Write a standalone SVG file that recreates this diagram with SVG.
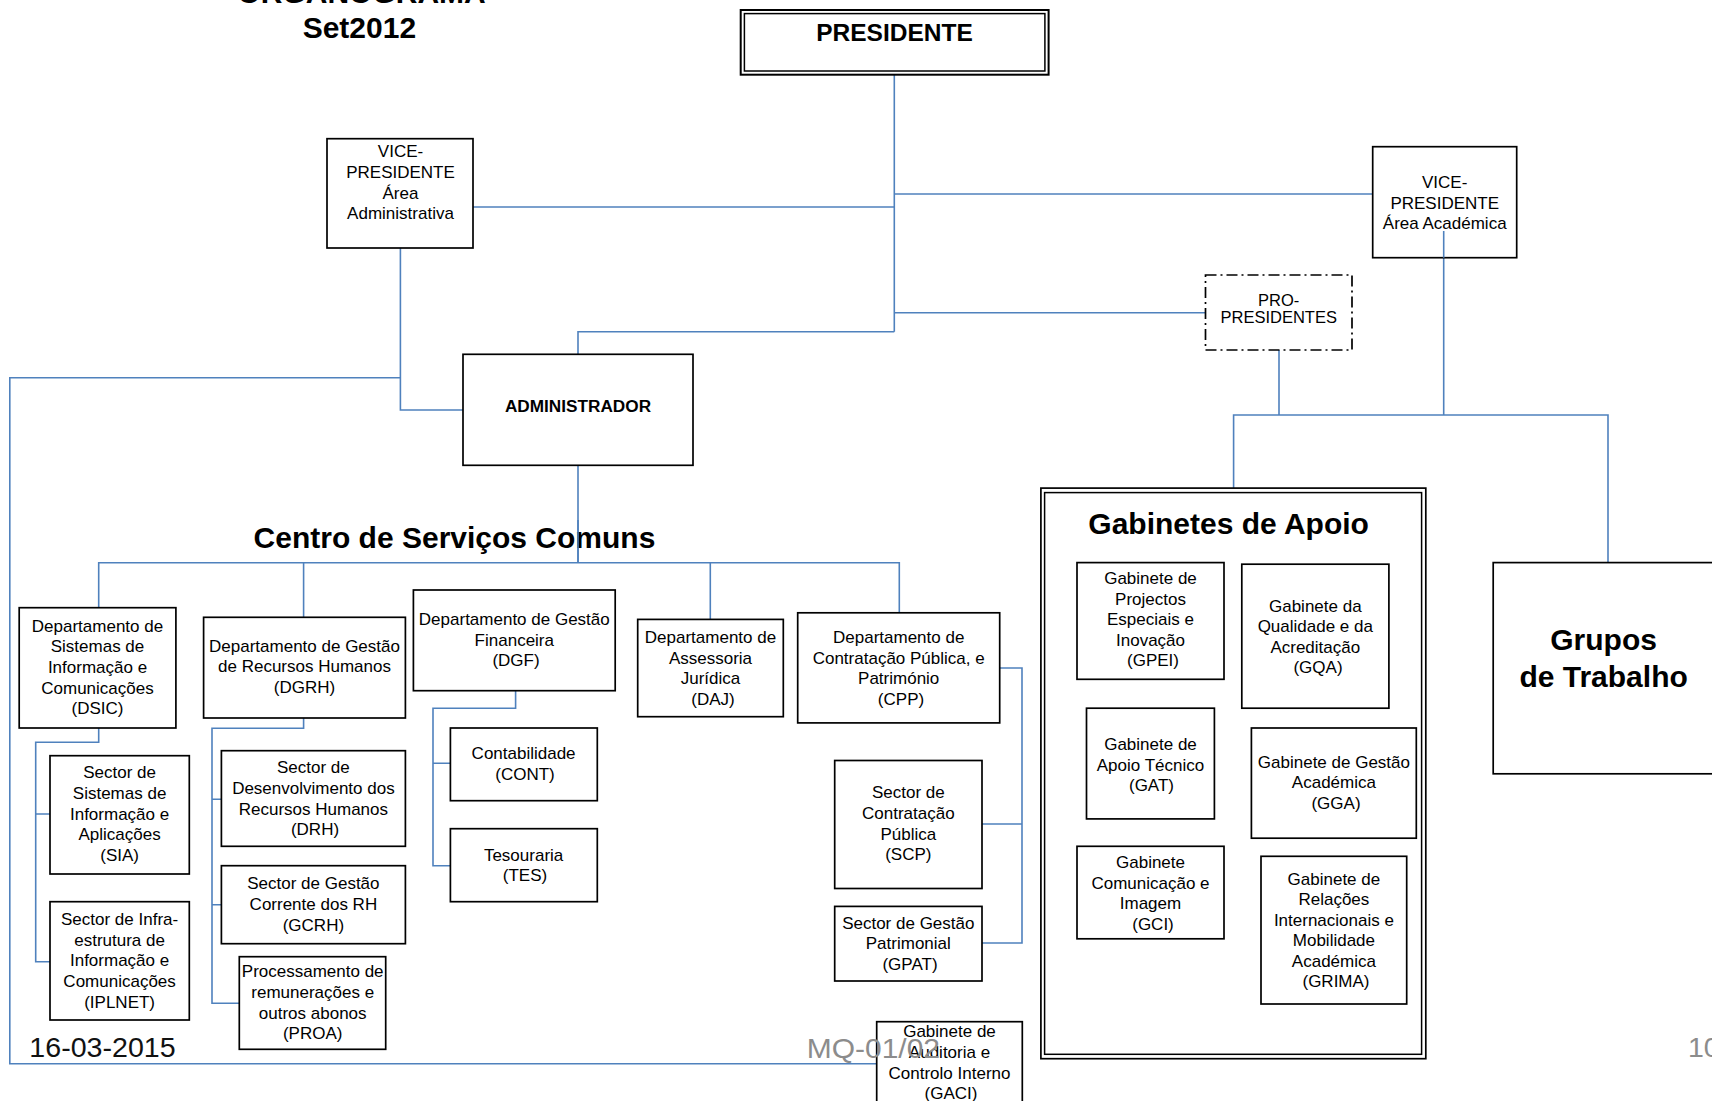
<svg xmlns="http://www.w3.org/2000/svg" width="1712" height="1101" viewBox="0 0 1712 1101">
<style>
.bx{fill:#fff;stroke:#000;stroke-width:1.7}
.t{font-family:"Liberation Sans",Arial,sans-serif;font-size:17px;fill:#000;text-anchor:middle}
.tb{font-family:"Liberation Sans",Arial,sans-serif;font-weight:bold;fill:#000;text-anchor:middle}
.g{font-family:"Liberation Sans",Arial,sans-serif;font-size:28.5px;fill:#8c8c8c}
.c{fill:none;stroke:#4f81bd;stroke-width:1.6}
</style>
<rect width="1712" height="1101" fill="#fff"/>
<g id="title">
<text class="tb" style="font-size:30px" x="361.6" y="2.8">ORGANOGRAMA</text>
<text class="tb" style="font-size:30px" x="359.4" y="38.3">Set2012</text>
</g>
<g id="connectors">
<path class="c" d="M894.3,74.7V331.7"/>
<path class="c" d="M894.3,194H1372.7"/>
<path class="c" d="M894.3,207H473"/>
<path class="c" d="M894.3,312.7H1205.5"/>
<path class="c" d="M894.3,331.7H578V354.3"/>
<path class="c" d="M400.4,248V410H463"/>
<path class="c" d="M400.4,377.7H9.8V1063.8H876.7"/>
<path class="c" d="M578,465.3V562.7"/>
<path class="c" d="M98.7,607.7V562.7H899.3V612.8"/>
<path class="c" d="M303.6,562.7V617.3"/>
<path class="c" d="M710.3,562.7V619.4"/>
<path class="c" d="M98.7,728V742.3H35.7V961.7H50M35.7,814H50"/>
<path class="c" d="M303.6,718V728.3H212V1003.3H239.3M212,799.3H221.4M212,904.7H221.4"/>
<path class="c" d="M515.6,690.7V708.3H433V865.7H450.4M433,763.3H450.4"/>
<path class="c" d="M999.7,668H1022V943H982M1022,824H982"/>
<path class="c" d="M1443.7,231V415M1279,350V415M1233.6,488V415H1608V562.6"/>
</g>
<g id="presidente">
<rect x="740.7" y="10" width="307.9" height="64.7" fill="#fff" stroke="#000" stroke-width="2"/>
<rect x="744.4" y="13.6" width="300.5" height="57.4" fill="none" stroke="#000" stroke-width="1.5"/>
<text class="tb" style="font-size:24.5px" x="894.5" y="40.7">PRESIDENTE</text>
</g>
<g id="vp-admin">
<rect class="bx" x="327" y="138.7" width="146" height="109.3"/>
<text class="t"><tspan x="400.5" y="157.3">VICE-</tspan><tspan x="400.5" y="178">PRESIDENTE</tspan><tspan x="400.5" y="198.7">Área</tspan><tspan x="400.5" y="219.4">Administrativa</tspan></text>
</g>
<g id="vp-academica">
<rect class="bx" x="1372.7" y="146.7" width="144" height="111"/>
<text class="t"><tspan x="1444.7" y="188.3">VICE-</tspan><tspan x="1444.7" y="208.8">PRESIDENTE</tspan><tspan x="1444.7" y="229.3">Área Académica</tspan></text>
</g>
<path class="c" d="M1443.7,231V257.7"/>
<g id="pro-presidentes">
<rect x="1205.5" y="275" width="146.5" height="75" fill="#fff" stroke="#000" stroke-width="1.7" stroke-dasharray="11 4 2 4"/>
<text class="t" style="font-size:16.5px"><tspan x="1278.7" y="306">PRO-</tspan><tspan x="1278.7" y="323.3">PRESIDENTES</tspan></text>
</g>
<g id="administrador">
<rect class="bx" x="463" y="354.3" width="230" height="111"/>
<text class="tb" style="font-size:17.2px" x="578" y="411.7">ADMINISTRADOR</text>
</g>
<g id="csc-title">
<text class="tb" style="font-size:30px" x="454.5" y="548.3">Centro de Serviços Comuns</text>
</g>
<path class="c" d="M578,520V562.7"/>
<g id="dsic">
<rect class="bx" x="19.2" y="607.7" width="156.7" height="120.3"/>
<text class="t"><tspan x="97.5" y="631.5">Departamento de</tspan><tspan x="97.5" y="652.2">Sistemas de</tspan><tspan x="97.5" y="672.9">Informação e</tspan><tspan x="97.5" y="693.6">Comunicações</tspan><tspan x="97.5" y="714.3">(DSIC)</tspan></text>
</g>
<g id="dgrh">
<rect class="bx" x="203.6" y="617.3" width="201.8" height="100.7"/>
<text class="t"><tspan x="304.5" y="651.7">Departamento de Gestão</tspan><tspan x="304.5" y="672.4">de Recursos Humanos</tspan><tspan x="304.5" y="693.1">(DGRH)</tspan></text>
</g>
<g id="dgf">
<rect class="bx" x="413.4" y="590" width="201.8" height="100.7"/>
<text class="t"><tspan x="514.3" y="625">Departamento de Gestão</tspan><tspan x="514.3" y="645.7">Financeira</tspan><tspan x="516" y="666.4">(DGF)</tspan></text>
</g>
<g id="daj">
<rect class="bx" x="637.7" y="619.4" width="145.6" height="97.3"/>
<text class="t"><tspan x="710.5" y="642.8">Departamento de</tspan><tspan x="710.5" y="663.5">Assessoria</tspan><tspan x="710.5" y="684.2">Jurídica</tspan><tspan x="713" y="704.9">(DAJ)</tspan></text>
</g>
<g id="cpp">
<rect class="bx" x="797.7" y="612.8" width="202" height="110.1"/>
<text class="t"><tspan x="898.7" y="642.8">Departamento de</tspan><tspan x="898.7" y="663.5">Contratação Pública, e</tspan><tspan x="898.7" y="684.2">Património</tspan><tspan x="901" y="704.9">(CPP)</tspan></text>
</g>
<g id="sia">
<rect class="bx" x="50" y="755.7" width="139.3" height="118.3"/>
<text class="t"><tspan x="119.6" y="778.3">Sector de</tspan><tspan x="119.6" y="799">Sistemas de</tspan><tspan x="119.6" y="819.7">Informação e</tspan><tspan x="119.6" y="840.4">Aplicações</tspan><tspan x="119.6" y="861.1">(SIA)</tspan></text>
</g>
<g id="iplnet">
<rect class="bx" x="50" y="901.7" width="139.3" height="118.3"/>
<text class="t"><tspan x="119.6" y="925">Sector de Infra-</tspan><tspan x="119.6" y="945.7">estrutura de</tspan><tspan x="119.6" y="966.4">Informação e</tspan><tspan x="119.6" y="987.1">Comunicações</tspan><tspan x="119.6" y="1007.8">(IPLNET)</tspan></text>
</g>
<g id="drh">
<rect class="bx" x="221.4" y="750.7" width="184" height="95.6"/>
<text class="t"><tspan x="313.4" y="773.3">Sector de</tspan><tspan x="313.4" y="794">Desenvolvimento dos</tspan><tspan x="313.4" y="814.7">Recursos Humanos</tspan><tspan x="315" y="835.4">(DRH)</tspan></text>
</g>
<g id="gcrh">
<rect class="bx" x="221.4" y="865.7" width="184" height="78"/>
<text class="t"><tspan x="313.4" y="889.3">Sector de Gestão</tspan><tspan x="313.4" y="910">Corrente dos RH</tspan><tspan x="313.4" y="930.7">(GCRH)</tspan></text>
</g>
<g id="proa">
<rect class="bx" x="239.3" y="956.7" width="146.4" height="92.6"/>
<text class="t"><tspan x="312.7" y="977.3">Processamento de</tspan><tspan x="312.7" y="998">remunerações e</tspan><tspan x="312.7" y="1018.7">outros abonos</tspan><tspan x="312.7" y="1039.4">(PROA)</tspan></text>
</g>
<g id="cont">
<rect class="bx" x="450.4" y="728" width="146.9" height="72.7"/>
<text class="t"><tspan x="523.6" y="759.3">Contabilidade</tspan><tspan x="525" y="780">(CONT)</tspan></text>
</g>
<g id="tes">
<rect class="bx" x="450.4" y="828.7" width="146.9" height="73"/>
<text class="t"><tspan x="523.6" y="860.7">Tesouraria</tspan><tspan x="525" y="881.4">(TES)</tspan></text>
</g>
<g id="scp">
<rect class="bx" x="834.7" y="760.5" width="147.3" height="128"/>
<text class="t"><tspan x="908.3" y="798">Sector de</tspan><tspan x="908.3" y="818.8">Contratação</tspan><tspan x="908.3" y="839.5">Pública</tspan><tspan x="908.3" y="860.2">(SCP)</tspan></text>
</g>
<g id="gpat">
<rect class="bx" x="834.7" y="906.4" width="147.3" height="74.6"/>
<text class="t"><tspan x="908.3" y="928.5">Sector de Gestão</tspan><tspan x="908.3" y="949.2">Patrimonial</tspan><tspan x="910" y="970">(GPAT)</tspan></text>
</g>
<g id="gaci">
<rect class="bx" x="876.7" y="1021.7" width="145.6" height="90"/>
<text class="t"><tspan x="949.5" y="1037.2">Gabinete de</tspan><tspan x="949.5" y="1058">Auditoria e</tspan><tspan x="949.5" y="1078.6">Controlo Interno</tspan><tspan x="951" y="1099.3">(GACI)</tspan></text>
</g>
<g id="footer">
<text class="g" style="fill:#111" x="29.3" y="1056.7" textLength="146.4" lengthAdjust="spacingAndGlyphs">16-03-2015</text>
<text class="g" x="806.7" y="1058.4" textLength="133.3" lengthAdjust="spacingAndGlyphs">MQ-01/02</text>
<text class="g" x="1688" y="1057">10</text>
</g>
<g id="gabinetes-apoio">
<rect x="1040.9" y="488.1" width="384.9" height="570.6" fill="#fff" stroke="#000" stroke-width="1.7"/>
<rect x="1044.6" y="492.6" width="377" height="561.7" fill="none" stroke="#000" stroke-width="1.5"/>
<text class="tb" style="font-size:30px" x="1228.6" y="534">Gabinetes de Apoio</text>
</g>
<g id="gpei">
<rect class="bx" x="1077" y="562.6" width="147" height="116.7"/>
<text class="t"><tspan x="1150.5" y="584.2">Gabinete de</tspan><tspan x="1150.5" y="604.7">Projectos</tspan><tspan x="1150.5" y="625.2">Especiais e</tspan><tspan x="1150.5" y="645.7">Inovação</tspan><tspan x="1153" y="666.2">(GPEI)</tspan></text>
</g>
<g id="gqa">
<rect class="bx" x="1241.8" y="564.2" width="147.1" height="144"/>
<text class="t"><tspan x="1315.3" y="611.5">Gabinete da</tspan><tspan x="1315.3" y="632">Qualidade e da</tspan><tspan x="1315.3" y="652.5">Acreditação</tspan><tspan x="1318" y="673">(GQA)</tspan></text>
</g>
<g id="gat">
<rect class="bx" x="1086.5" y="708.2" width="127.9" height="110.7"/>
<text class="t"><tspan x="1150.5" y="750.3">Gabinete de</tspan><tspan x="1150.5" y="770.8">Apoio Técnico</tspan><tspan x="1151.5" y="791.3">(GAT)</tspan></text>
</g>
<g id="gga">
<rect class="bx" x="1251.4" y="728" width="164.9" height="110.2"/>
<text class="t"><tspan x="1333.9" y="767.5">Gabinete de Gestão</tspan><tspan x="1333.9" y="788">Académica</tspan><tspan x="1336" y="808.5">(GGA)</tspan></text>
</g>
<g id="gci">
<rect class="bx" x="1077" y="846.3" width="147" height="92.5"/>
<text class="t"><tspan x="1150.5" y="868">Gabinete</tspan><tspan x="1150.5" y="888.5">Comunicação e</tspan><tspan x="1150.5" y="909">Imagem</tspan><tspan x="1153" y="929.5">(GCI)</tspan></text>
</g>
<g id="grima">
<rect class="bx" x="1261" y="856.3" width="145.7" height="147.7"/>
<text class="t"><tspan x="1333.9" y="884.5">Gabinete de</tspan><tspan x="1333.9" y="905">Relações</tspan><tspan x="1333.9" y="925.5">Internacionais e</tspan><tspan x="1333.9" y="946">Mobilidade</tspan><tspan x="1333.9" y="966.5">Académica</tspan><tspan x="1336" y="987">(GRIMA)</tspan></text>
</g>
<g id="grupos-trabalho">
<rect class="bx" x="1493.2" y="562.6" width="225" height="211.2"/>
<text class="tb" style="font-size:30px"><tspan x="1603.6" y="650">Grupos</tspan><tspan x="1603.6" y="687.3">de Trabalho</tspan></text>
</g>
</svg>
